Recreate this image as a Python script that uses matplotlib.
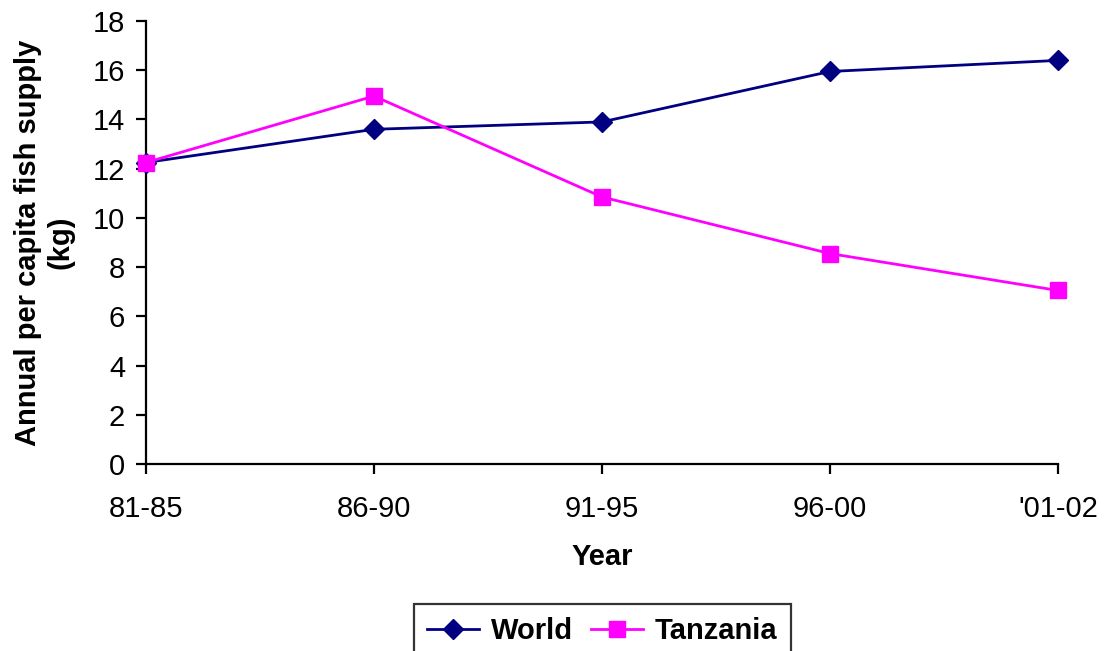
import matplotlib.pyplot as plt

# Annual per capita fish supply (kg) by period
years = ['81-85', '86-90', '91-95', '96-00', "'01-02"]
world = [12.25, 13.6, 13.9, 15.95, 16.4]
tanzania = [12.25, 14.95, 10.85, 8.55, 7.05]

plt.rcParams['font.family'] = ['Liberation Sans', 'DejaVu Sans']

fig = plt.figure(figsize=(11.07, 6.51), dpi=100)
ax = fig.add_axes([0.1319, 0.2873, 0.8238, 0.6804])

x = range(len(years))
ax.plot(x, world, color='#000080', lw=2, marker='D', ms=10, label='World', clip_on=False, zorder=3)
ax.plot(x, tanzania, color='#FF00FF', lw=2, marker='s', ms=11, label='Tanzania', clip_on=False, zorder=3)

ax.set_xlim(0, 4)
ax.set_ylim(0, 18)
ax.set_yticks(range(0, 19, 2))
ax.set_xticks(list(x))
ax.set_xticklabels(years)

for side in ['top', 'right']:
    ax.spines[side].set_visible(False)
for side in ['left', 'bottom']:
    ax.spines[side].set_linewidth(1.6)
ax.tick_params(axis='both', labelsize=21, width=1.6, length=7, direction='out')
ax.tick_params(axis='x', pad=15)
ax.tick_params(axis='y', pad=8)

ax.set_xlabel('Year', fontsize=21, fontweight='bold', labelpad=15)
ax.set_ylabel('Annual per capita fish supply\n(kg)', fontsize=21, fontweight='bold', labelpad=13)

leg = fig.legend(loc='upper center', bbox_to_anchor=(0.544, 0.072), borderaxespad=0, ncol=2,
                 frameon=True, fancybox=False, prop={'size': 21, 'weight': 'bold'},
                 handlelength=1.8, columnspacing=0.6, handletextpad=0.4, borderpad=0.45)
leg.get_frame().set_edgecolor('black')
leg.get_frame().set_linewidth(1.6)

fig.savefig('out.png', dpi=100)
